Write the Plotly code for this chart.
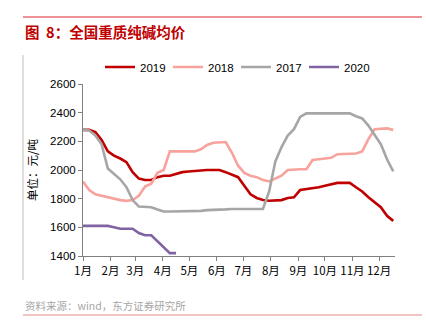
import datetime
import plotly.graph_objects as go

# ---- data (weekly averages, yuan/ton) ----
months = ["1月", "2月", "3月", "4月", "5月", "6月", "7月", "8月", "9月", "10月", "11月", "12月"]
y2019 = [2280, 2280, 2265, 2210, 2130, 2100, 2080, 2055, 1985, 1940, 1930, 1930, 1950, 1960, 1960,
         1975, 1985, 1990, 1995, 2000, 2000, 2000, 2000, 1985, 1970, 1950, 1890, 1830, 1805, 1790,
         1785, 1785, 1790, 1805, 1810, 1860, 1865, 1870, 1880, 1890, 1900, 1910, 1910, 1910, 1880,
         1850, 1810, 1775, 1740, 1680, 1645]
y2018 = [1920, 1860, 1830, 1820, 1805, 1795, 1790, 1785, 1790, 1820, 1885, 1905, 1980, 2000, 2130,
         2130, 2130, 2130, 2130, 2145, 2175, 2190, 2195, 2195, 2120, 2030, 1980, 1960, 1950, 1930,
         1920, 1940, 1960, 2000, 2005, 2005, 2005, 2070, 2075, 2080, 2085, 2110, 2110, 2110, 2115,
         2130, 2215, 2285, 2290, 2290, 2280]
y2017 = [2280, 2275, 2240, 2180, 2010, 1975, 1935, 1880, 1790, 1745, 1740, 1740, 1725, 1710, 1710,
         1710, 1710, 1710, 1710, 1715, 1720, 1720, 1720, 1725, 1728, 1728, 1728, 1728, 1728, 1728,
         1850, 2060, 2160, 2240, 2285, 2370, 2395, 2395, 2395, 2395, 2395, 2395, 2395, 2395, 2375,
         2360, 2310, 2245, 2180, 2075, 1990]
y2020 = [1610, 1610, 1610, 1610, 1610, 1600, 1590, 1590, 1590, 1560, 1545, 1545, 1505, 1460, 1420, 1420]
y_ticks = [1400, 1600, 1800, 2000, 2200, 2400, 2600]

series = [("2019", y2019, "#C00000"), ("2018", y2018, "#F7A29C"),
          ("2017", y2017, "#A6A6A6"), ("2020", y2020, "#8064A2")]

def days(vals):
    return [7 * i for i in range(len(vals))]

month_days = [(datetime.date(2019, m, 1) - datetime.date(2019, 1, 1)).days for m in range(1, 13)]

FONT = "Liberation Sans, Arial, Noto Sans CJK SC"
CJK = "Noto Sans CJK SC, Liberation Sans"

fig = go.Figure()
for name, vals, color in series:
    fig.add_trace(go.Scatter(x=days(vals), y=vals, name=name, mode="lines",
                             line=dict(color=color, width=2.6)))

fig.update_layout(
    width=426, height=335,
    margin=dict(l=83, r=31, t=84, b=79),
    paper_bgcolor="white", plot_bgcolor="white",
    font=dict(family=FONT, size=11, color="#000"),
    showlegend=True,
    legend=dict(orientation="h", x=(100 - 83) / 312, xanchor="left",
                y=(256 - 67) / 172, yanchor="middle",
                entrywidth=23, entrywidthmode="pixels",
                font=dict(family=FONT, size=11.5, color="#000"),
                bgcolor="rgba(0,0,0,0)", traceorder="normal",
                itemwidth=30, tracegroupgap=0),
    xaxis=dict(range=[0, 352], tickmode="array", tickvals=month_days, ticktext=months,
               showgrid=False, zeroline=False, showline=True, linecolor="#808080", linewidth=1,
               ticks="outside", ticklen=4, tickcolor="#808080",
               tickfont=dict(family=CJK, size=11.5, color="#000")),
    yaxis=dict(range=[1400, 2600], tickmode="array", tickvals=y_ticks,
               showgrid=False, zeroline=False, showline=True, linecolor="#808080", linewidth=1,
               ticks="outside", ticklen=4, tickcolor="#808080",
               tickfont=dict(family=FONT, size=11.5, color="#000"),
               title=dict(text="单位：元/吨", font=dict(family=CJK, size=11.5, color="#000"),
                          standoff=10)),
)

# page decorations: top red rule, left border, bottom rule
fig.add_shape(type="line", xref="paper", yref="paper",
              x0=(23 - 83) / 312, x1=(422 - 83) / 312, y0=(256 - 17) / 172, y1=(256 - 17) / 172,
              line=dict(color="#D9262B", width=1))
fig.add_shape(type="line", xref="paper", yref="paper",
              x0=(23 - 83) / 312, x1=(23 - 83) / 312, y0=(256 - 55) / 172, y1=(256 - 280) / 172,
              line=dict(color="#BFBFBF", width=1))
fig.add_shape(type="line", xref="paper", yref="paper",
              x0=(23 - 83) / 312, x1=(422 - 83) / 312, y0=(256 - 315) / 172, y1=(256 - 315) / 172,
              line=dict(color="#E08A86", width=1))

fig.add_annotation(text="<b>图  8：全国重质纯碱均价</b>", xref="paper", yref="paper",
                   x=(23 - 83) / 312, y=(256 - 32) / 172, xanchor="left", yanchor="middle",
                   showarrow=False, font=dict(family=CJK, size=14.5, color="#C00000"))
fig.add_annotation(text="资料来源：wind，东方证券研究所", xref="paper", yref="paper",
                   x=(23 - 83) / 312, y=(256 - 305) / 172, xanchor="left", yanchor="middle",
                   showarrow=False, font=dict(family=CJK, size=10.5, color="#A6A6A6"))

fig.write_html("out.html")
